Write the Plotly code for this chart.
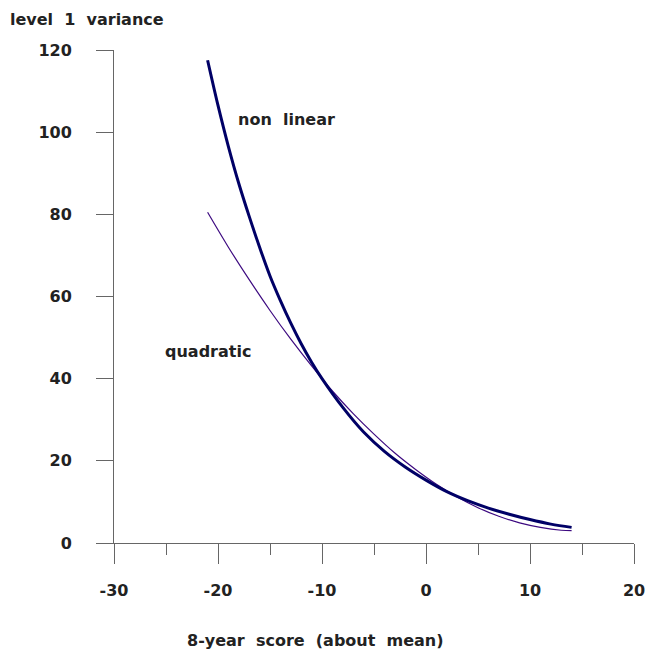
import plotly.graph_objects as go

# Non linear (exponential-like) fit
nl_x = [-21, -20, -19, -18, -17, -16, -15, -14, -13, -12, -11, -10, -8, -6, -4, -2, 0, 2, 4, 6, 8, 10, 12, 14]
nl_y = [117.5, 106.5, 96.5, 87.5, 79.5, 72.0, 65.0, 59.0, 53.5, 48.5, 44.0, 40.0, 33.0, 27.0, 22.3, 18.5, 15.3, 12.5, 10.3, 8.5, 7.0, 5.7, 4.6, 3.8]

# Quadratic fit
q_x = [-21, -19, -17, -15, -13, -11, -9, -7, -5, -3, -1, 1, 3, 5, 7, 9, 11, 13, 14]
q_y = [80.5, 72.0, 64.1, 56.6, 49.6, 43.1, 37.0, 31.5, 26.5, 21.9, 17.9, 14.3, 11.2, 8.6, 6.5, 4.9, 3.8, 3.1, 3.0]

x_ticks = [-30, -20, -10, 0, 10, 20]
x_labels = ["-30", "-20", "-10", "0", "10", "20"]
y_ticks = [0, 20, 40, 60, 80, 100, 120]
y_labels = ["0", "20", "40", "60", "80", "100", "120"]

FONT = "DejaVu Sans"
TXT = "#222222"
AX = "#666666"
NB = "\u00a0"

fig = go.Figure()
fig.add_trace(go.Scatter(x=q_x, y=q_y, mode="lines", line=dict(color="#3d0a80", width=1.2),
                         line_shape="spline", showlegend=False, hoverinfo="skip"))
fig.add_trace(go.Scatter(x=nl_x, y=nl_y, mode="lines", line=dict(color="#000066", width=3),
                         line_shape="spline", showlegend=False, hoverinfo="skip"))

fig.update_layout(
    width=645, height=655,
    margin=dict(l=114, r=11, t=50, b=112, autoexpand=False),
    paper_bgcolor="white", plot_bgcolor="white",
    font=dict(family=FONT, size=16, color=TXT, weight="bold"),
    xaxis=dict(range=[-30, 20.0001], tickvals=x_ticks, ticktext=x_labels, ticks="outside", ticklen=20, tickwidth=1,
               tickcolor=AX, showline=True, linecolor=AX, linewidth=1, showgrid=False,
               zeroline=False, ticklabelstandoff=13, ticklabeloverflow="allow", automargin=False,
               minor=dict(tickvals=[-25, -15, -5, 5, 15], ticks="outside", ticklen=11,
                          tickcolor=AX, tickwidth=1, showgrid=False),
               tickfont=dict(family=FONT, size=16, color=TXT, weight="bold")),
    yaxis=dict(range=[0, 120.0001], tickvals=y_ticks, ticktext=y_labels, ticks="outside", ticklen=17, tickwidth=1,
               tickcolor=AX, showline=True, linecolor=AX, linewidth=1, showgrid=False,
               zeroline=False, ticklabelstandoff=21, ticklabeloverflow="allow", automargin=False,
               tickfont=dict(family=FONT, size=16, color=TXT, weight="bold")),
    annotations=[
        dict(text="level" + NB * 2 + "1" + NB * 2 + "variance", xref="paper", yref="paper",
             x=-0.204, y=1.061, xanchor="left", yanchor="middle", showarrow=False),
        dict(text="8-year" + NB * 2 + "score" + NB * 2 + "(about" + NB * 2 + "mean)", xref="paper", yref="paper",
             x=0.388, y=-0.197, xanchor="center", yanchor="middle", showarrow=False),
        dict(text="non" + NB * 2 + "linear", xref="x", yref="y", x=-18.3, y=103,
             xanchor="left", yanchor="middle", showarrow=False),
        dict(text="quadratic", xref="x", yref="y", x=-25.3, y=46.7,
             xanchor="left", yanchor="middle", showarrow=False),
    ],
)

fig.write_html("out.html")
